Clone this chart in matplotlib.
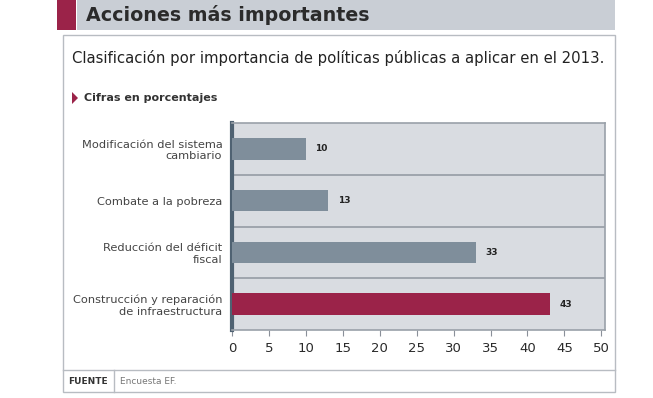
import matplotlib.pyplot as plt
from matplotlib.patches import Rectangle, Polygon
from matplotlib.lines import Line2D

plt.rcParams['font.family'] = ['DejaVu Sans']

categorias = ['Modificación del sistema\ncambiario',
              'Combate a la pobreza',
              'Reducción del déficit\nfiscal',
              'Construcción y reparación\nde infraestructura']
valores = [10, 13, 33, 43]
colores = ['#7f8e9b', '#7f8e9b', '#7f8e9b', '#9b2349']
ticks = [0, 5, 10, 15, 20, 25, 30, 35, 40, 45, 50]

W, H = 653, 398
fig = plt.figure(figsize=(W / 100, H / 100), dpi=100)

def px(x, y):
    return x / W, 1 - y / H

# header band
fig.patches.append(Rectangle(px(77, 30), (615 - 77) / W, 30 / H, transform=fig.transFigure,
                             facecolor='#c9ced5', edgecolor='none'))
fig.patches.append(Rectangle(px(57, 30), 19 / W, 30 / H, transform=fig.transFigure,
                             facecolor='#9b2349', edgecolor='none'))
fig.text(*px(86, 15), 'Acciones más importantes', fontsize=13.7, fontweight='bold',
         color='#2b2b2b', va='center', ha='left')

# outer box
fig.patches.append(Rectangle(px(63, 392), (615 - 63) / W, (392 - 35) / H, transform=fig.transFigure,
                             facecolor='none', edgecolor='#b8bcc2', lw=1))
fig.text(*px(72, 58), 'Clasificación por importancia de políticas públicas a aplicar en el 2013.',
         fontsize=10.7, color='#222222', va='center', ha='left')
fig.patches.append(Polygon([px(72, 92), px(72, 104), px(78, 98)], closed=True,
                           transform=fig.transFigure, facecolor='#9b2349', edgecolor='none'))
fig.text(*px(84, 98), 'Cifras en porcentajes', fontsize=8, fontweight='bold',
         color='#333333', va='center', ha='left')

# footer
fig.lines.append(Line2D([63 / W, 615 / W], [1 - 370 / H] * 2, transform=fig.transFigure,
                        color='#b8bcc2', lw=1))
fig.lines.append(Line2D([114 / W, 114 / W], [1 - 370 / H, 1 - 392 / H], transform=fig.transFigure,
                        color='#b8bcc2', lw=1))
fig.text(*px(68, 381), 'FUENTE', fontsize=6.5, fontweight='bold', color='#333333', va='center')
fig.text(*px(120, 381), 'Encuesta EF.', fontsize=6.5, color='#777777', va='center')

# chart
ax = fig.add_axes([232 / W, 1 - 330 / H, (605 - 232) / W, (330 - 123) / H])
ax.set_facecolor('#d9dce1')
pos = list(range(len(categorias)))[::-1]
ax.barh(pos, valores, height=0.42, color=colores, zorder=3)
for p, v in zip(pos, valores):
    ax.text(v + 1.3, p, str(v), va='center', ha='left', fontsize=6.5, fontweight='bold',
            color='#222222', zorder=4)
for b in [0.5, 1.5, 2.5]:
    ax.axhline(b, color='#9aa1a9', lw=1.3, zorder=2)
ax.set_xlim(0, 50.5)
ax.set_ylim(-0.5, 3.5)
ax.set_xticks(ticks)
ax.set_yticks(pos)
ax.set_yticklabels(categorias, fontsize=8.2, color='#444444', linespacing=1.2)
ax.tick_params(axis='y', length=0, pad=7)
ax.tick_params(axis='x', length=4, color='#8a9099', labelsize=9.5, labelcolor='#2a2a2a', pad=5)
ax.spines['left'].set_color('#4f6272')
ax.spines['left'].set_linewidth(3)
for s in ['top', 'right', 'bottom']:
    ax.spines[s].set_color('#9aa1a9')
    ax.spines[s].set_linewidth(1.2)

fig.savefig('out.png', dpi=100, facecolor='white')
